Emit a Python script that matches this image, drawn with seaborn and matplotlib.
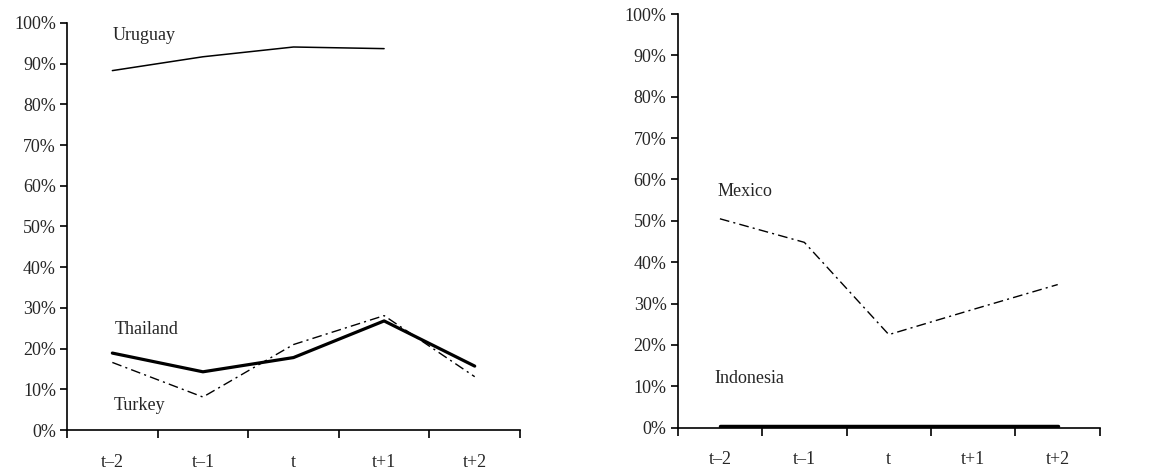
import matplotlib
matplotlib.use("Agg")
import matplotlib.pyplot as plt
import seaborn as sns
import numpy as np
import pandas as pd
from matplotlib.ticker import FixedLocator, PercentFormatter

sns.set_theme(style="ticks")
plt.rcParams['font.family'] = ['Liberation Serif', 'DejaVu Serif']

periods = ['t\u20132', 't\u20131', 't', 't+1', 't+2']

# left panel
uruguay = [88.3, 91.7, 94.1, 93.7, np.nan]
thailand = [18.9, 14.3, 17.8, 26.8, 15.7]
turkey = [16.6, 8.1, 21.0, 28.1, 13.1]

# right panel
mexico = [50.5, 44.8, 22.5, 28.6, 34.6]
indonesia = [0.3, 0.3, 0.3, 0.3, 0.3]

dashdot = (0, (7, 3, 1.5, 3))
FS = 13


def style_axis(ax):
    ax.set_xlim(-0.5, 4.5)
    ax.set_ylim(0, 100)
    ax.xaxis.set_major_locator(FixedLocator(np.arange(-0.5, 5, 1)))
    ax.xaxis.set_minor_locator(FixedLocator(np.arange(5)))
    ax.set_xticklabels([])
    ax.set_xticklabels(periods, minor=True)
    ax.tick_params(axis='x', which='major', length=6, width=1.2, color='black', direction='out')
    ax.tick_params(axis='x', which='minor', length=0, pad=17, labelsize=FS)
    ax.set_yticks(np.arange(0, 101, 10))
    ax.yaxis.set_major_formatter(PercentFormatter(decimals=0))
    ax.tick_params(axis='y', length=5, width=1.2, color='black', labelsize=FS, pad=3)
    for s in ['top', 'right']:
        ax.spines[s].set_visible(False)
    for s in ['left', 'bottom']:
        ax.spines[s].set_linewidth(1.2)
        ax.spines[s].set_color('black')
    ax.set_xlabel('')
    ax.set_ylabel('')


fig = plt.figure(figsize=(11.62, 4.73), dpi=100)
ax1 = fig.add_axes([0.0577, 0.0909, 0.3898, 0.8605])
ax2 = fig.add_axes([0.5832, 0.0958, 0.3634, 0.8746])

x = np.arange(len(periods))

sns.lineplot(x=x, y=uruguay, ax=ax1, color='black', linewidth=1.1)
sns.lineplot(x=x, y=turkey, ax=ax1, color='black', linewidth=1.0, linestyle=dashdot)
sns.lineplot(x=x, y=thailand, ax=ax1, color='black', linewidth=2.3)

ax1.text(0.0, 97, 'Uruguay', fontsize=FS, ha='left', va='center')
ax1.text(0.03, 24.8, 'Thailand', fontsize=FS, ha='left', va='center')
ax1.text(0.01, 6, 'Turkey', fontsize=FS, ha='left', va='center')

sns.lineplot(x=x, y=mexico, ax=ax2, color='black', linewidth=1.0, linestyle=dashdot)
sns.lineplot(x=x, y=indonesia, ax=ax2, color='black', linewidth=2.5)

ax2.text(-0.03, 57.2, 'Mexico', fontsize=FS, ha='left', va='center')
ax2.text(-0.06, 12, 'Indonesia', fontsize=FS, ha='left', va='center')

style_axis(ax1)
style_axis(ax2)

fig.savefig('out.png', dpi=100, facecolor='white')
